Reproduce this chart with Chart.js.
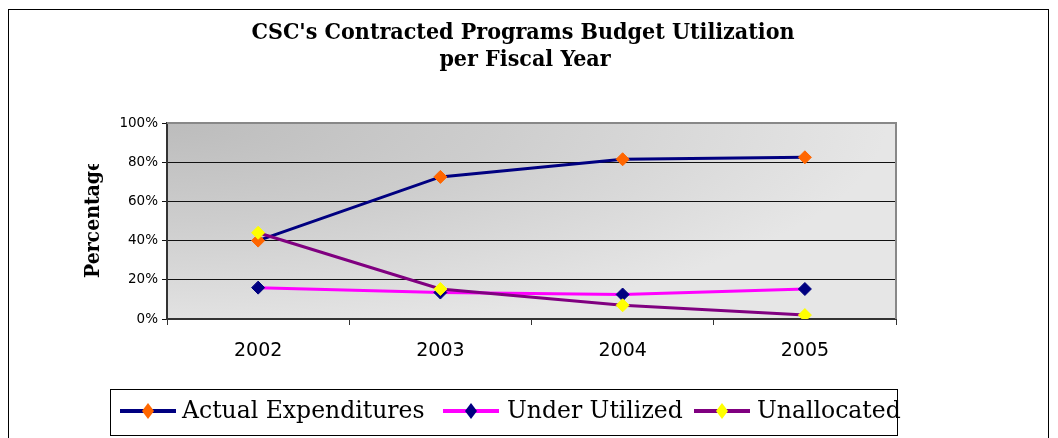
<!DOCTYPE html>
<html>
<head>
<meta charset="utf-8">
<script src="https://cdn.jsdelivr.net/npm/chart.js@4.4.1/dist/chart.umd.min.js"></script>
<style>
  html, body { margin: 0; padding: 0; background: #fff; }
</style>
</head>
<body>
<canvas id="budgetChart" width="1058" height="438"></canvas>
<script>
// values (percent)
const years = ['2002', '2003', '2004', '2005'];
const actualExpenditures = [40, 72.5, 81.5, 82.5];
const underUtilized = [16, 13.5, 12.5, 15.3];
const unallocated = [44, 15.3, 7, 2];
const seriesNames = ['Actual Expenditures', 'Under Utilized', 'Unallocated'];
const yTicks = [0, 20, 40, 60, 80, 100];

const titleLines = ["CSC's Contracted Programs Budget Utilization", 'per Fiscal Year'];
const yTitle = 'Percentage';

const serifBold = '"DejaVu Serif Condensed", "DejaVu Serif", serif';

// white page, outer frame, shaded plot area
const backdrop = {
    id: 'backdrop',
    beforeDraw(chart) {
        const ctx = chart.ctx;
        const a = chart.chartArea;
        ctx.save();
        ctx.fillStyle = '#ffffff';
        ctx.fillRect(0, 0, chart.width, chart.height);
        ctx.strokeStyle = '#000000';
        ctx.lineWidth = 1;
        ctx.strokeRect(8.5, 9.5, 1040, 440);

        ctx.save();
        ctx.beginPath();
        ctx.rect(a.left, a.top, a.right - a.left, a.bottom - a.top);
        ctx.clip();
        ctx.fillStyle = '#e6e6e6';
        ctx.fillRect(a.left, a.top, a.right - a.left, a.bottom - a.top);
        // elliptical shading from the top-left corner
        ctx.translate(a.left, a.top);
        ctx.scale(1, 0.3);
        const g = ctx.createRadialGradient(0, 0, 0, 0, 0, 720);
        g.addColorStop(0, '#bcbcbc');
        g.addColorStop(0.45, '#cdcdcd');
        g.addColorStop(1, '#e6e6e6');
        ctx.fillStyle = g;
        ctx.fillRect(0, 0, 760, 760);
        ctx.restore();
        ctx.restore();
    },
    beforeDatasetsDraw(chart) {
        const ctx = chart.ctx;
        const a = chart.chartArea;
        ctx.save();
        ctx.strokeStyle = '#888888';
        ctx.lineWidth = 2;
        ctx.beginPath();
        ctx.moveTo(a.left, a.top);
        ctx.lineTo(a.right, a.top);
        ctx.lineTo(a.right, a.bottom);
        ctx.stroke();
        ctx.restore();
    }
};

// titles and the boxed legend with line + marker samples
const texts = {
    id: 'texts',
    afterDraw(chart) {
        const ctx = chart.ctx;
        ctx.save();
        ctx.fillStyle = '#000';
        ctx.textAlign = 'center';
        ctx.textBaseline = 'alphabetic';
        ctx.font = 'bold 23px ' + serifBold;
        ctx.fillText(titleLines[0], 523, 39);
        ctx.fillText(titleLines[1], 525, 66);

        // axis title, clipped at the top like the original
        ctx.save();
        ctx.beginPath();
        ctx.rect(0, 164, 160, 274);
        ctx.clip();
        ctx.font = 'bold 21px ' + serifBold;
        ctx.translate(99, 278);
        ctx.rotate(-Math.PI / 2);
        ctx.textAlign = 'left';
        ctx.fillText(yTitle, 0, 0);
        ctx.restore();

        // legend
        ctx.strokeStyle = '#000';
        ctx.lineWidth = 1;
        ctx.strokeRect(110.5, 389.5, 787, 46);
        const sampleX = [120, 443, 694];
        const textX = [182, 507, 757];
        const y = 411;
        ctx.font = '23.5px "DejaVu Serif", serif';
        ctx.textAlign = 'left';
        chart.data.datasets.forEach((ds, i) => {
            ctx.strokeStyle = ds.borderColor;
            ctx.lineWidth = 4;
            ctx.beginPath();
            ctx.moveTo(sampleX[i], y);
            ctx.lineTo(sampleX[i] + 56, y);
            ctx.stroke();
            const cx = sampleX[i] + 28;
            ctx.fillStyle = ds.pointBackgroundColor;
            ctx.beginPath();
            ctx.moveTo(cx, y - 8);
            ctx.lineTo(cx + 6, y);
            ctx.lineTo(cx, y + 8);
            ctx.lineTo(cx - 6, y);
            ctx.closePath();
            ctx.fill();
            ctx.fillStyle = '#000';
            ctx.fillText(ds.label, textX[i], 418);
        });
        ctx.restore();
    }
};

const lineStyle = (label, data, line, marker) => ({
    label: label,
    data: data,
    borderColor: line,
    borderWidth: 3,
    pointStyle: 'rectRot',
    pointRadius: 6.5,
    pointHoverRadius: 6.5,
    pointBackgroundColor: marker,
    pointBorderColor: marker,
    pointBorderWidth: 1,
    tension: 0,
    fill: false
});

new Chart(document.getElementById('budgetChart'), {
    type: 'line',
    data: {
        labels: years,
        datasets: [
            Object.assign(lineStyle(seriesNames[0], actualExpenditures, '#000080', '#ff6600'), { order: 2 }),
            Object.assign(lineStyle(seriesNames[1], underUtilized, '#ff00ff', '#000080'), { order: 1 }),
            Object.assign(lineStyle(seriesNames[2], unallocated, '#800080', '#ffff00'), { order: 0 })
        ]
    },
    options: {
        responsive: false,
        animation: false,
        devicePixelRatio: 1,
        layout: { padding: { left: 0, top: 123, right: 162, bottom: 0 } },
        plugins: {
            legend: { display: false },
            title: { display: false },
            tooltip: { enabled: false }
        },
        scales: {
            x: {
                offset: true,
                afterFit: (s) => { s.height = 119; },
                grid: { offset: true, drawOnChartArea: false, tickLength: 6, color: '#333', lineWidth: 1 },
                border: { color: '#333', width: 2 },
                ticks: {
                    color: '#000',
                    padding: 15,
                    font: { family: '"DejaVu Sans", sans-serif', size: 19 }
                }
            },
            y: {
                min: 0,
                max: 100,
                afterFit: (s) => { s.width = 167; },
                afterBuildTicks: (s) => { s.ticks = yTicks.map(v => ({ value: v })); },
                grid: {
                    color: (c) => (c.tick && c.tick.value === 100 ? '#888' : '#111'),
                    tickColor: '#111',
                    lineWidth: 1,
                    tickLength: 5
                },
                border: { color: '#333', width: 2 },
                ticks: {
                    color: '#000',
                    padding: 4,
                    font: { family: '"DejaVu Sans", sans-serif', size: 13.5 },
                    callback: (v) => v + '%'
                }
            }
        }
    },
    plugins: [backdrop, texts]
});
</script>
</body>
</html>
